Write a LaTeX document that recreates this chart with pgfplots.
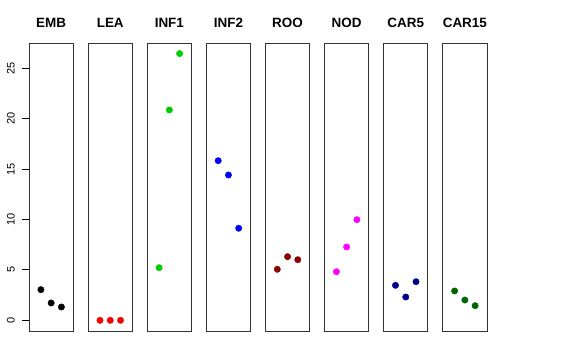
\documentclass[border=0pt]{standalone}
\usepackage{fontspec}
\setmainfont{Liberation Sans}
\usepackage{pgfplots}
\pgfplotsset{compat=1.18}
\definecolor{cEMB}{RGB}{0,0,0}
\definecolor{cLEA}{RGB}{255,0,0}
\definecolor{cINF1}{RGB}{0,205,0}
\definecolor{cINF2}{RGB}{0,0,255}
\definecolor{cROO}{RGB}{139,0,0}
\definecolor{cNOD}{RGB}{255,0,255}
\definecolor{cCAR5}{RGB}{0,0,139}
\definecolor{cCAR15}{RGB}{0,100,0}
\pgfplotsset{
  panel/.style={
    anchor=south west, scale only axis,
    width=44.3bp, height=288bp,
    xmin=-0.16, xmax=4.16, ymin=-1.06, ymax=27.5,
    xtick=\empty, ytick=\empty,
    axis line style={black!80, line width=0.9bp},
    title style={font=\bfseries\fontsize{13.5}{15}\selectfont, at={(0.5,1)}, anchor=base, yshift=9.5bp},
    clip=false,
  },
  pts/.style={only marks, mark=*, mark size=3.2bp, mark options={draw=#1, fill=#1}},
}
\begin{document}
\begin{tikzpicture}
\path[use as bounding box] (0,0) rectangle (576bp,360bp);
\begin{axis}[panel, at={(29bp,29bp)}, title={EMB},
  ytick={0,5,10,15,20,25}, ytick pos=left, tick align=outside,
  major tick length=7bp,
  y tick style={draw=black, line width=1bp},
  yticklabel shift=7bp,
  yticklabel style={rotate=90, anchor=south, font=\fontsize{11}{12}\selectfont, inner sep=0bp},
  /pgf/number format/assume math mode=true,
  extra description/.code={
    \foreach \v in {0,5,10,15,20,25}{
      \draw[black, line width=1bp] (axis cs:-0.16,\v) -- ++(-7bp,0);
    }
  }]
\addplot[pts=cEMB] coordinates {(1,3.04) (2,1.72) (3,1.32)};
\end{axis}
\begin{axis}[panel, at={(88.1bp,29bp)}, title={LEA}]
\addplot[pts=cLEA] coordinates {(1,0) (2,0) (3,0)};
\end{axis}
\begin{axis}[panel, at={(147.2bp,29bp)}, title={INF1}]
\addplot[pts=cINF1] coordinates {(1,5.22) (2,20.86) (3,26.45)};
\end{axis}
\begin{axis}[panel, at={(206.3bp,29bp)}, title={INF2}]
\addplot[pts=cINF2] coordinates {(1,15.83) (2,14.41) (3,9.13)};
\end{axis}
\begin{axis}[panel, at={(265.4bp,29bp)}, title={ROO}]
\addplot[pts=cROO] coordinates {(1,5.06) (2,6.31) (3,6.01)};
\end{axis}
\begin{axis}[panel, at={(324.5bp,29bp)}, title={NOD}]
\addplot[pts=cNOD] coordinates {(1,4.82) (2,7.27) (3,9.98)};
\end{axis}
\begin{axis}[panel, at={(383.6bp,29bp)}, title={CAR5}]
\addplot[pts=cCAR5] coordinates {(1,3.47) (2,2.31) (3,3.83)};
\end{axis}
\begin{axis}[panel, at={(442.7bp,29bp)}, title={CAR15}]
\addplot[pts=cCAR15] coordinates {(1,2.91) (2,2.01) (3,1.45)};
\end{axis}
\end{tikzpicture}
\end{document}
